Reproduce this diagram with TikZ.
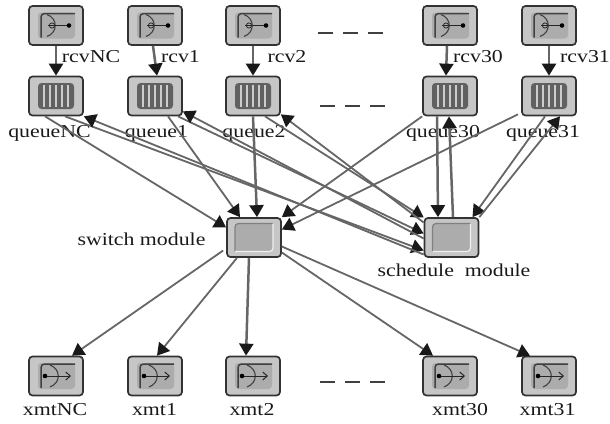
\documentclass[tikz,border=0pt]{standalone}
\usepackage{fontspec}
\setmainfont[FakeStretch=1.2]{Liberation Serif}
\usetikzlibrary{arrows.meta}
\definecolor{boxfill}{HTML}{C6C6C6}
\definecolor{boxinner}{HTML}{ACACAC}
\definecolor{boxline}{HTML}{333333}
\definecolor{wirecol}{HTML}{666666}
\tikzset{
  modbox/.style={draw=boxline,fill=boxfill,line width=1.7pt,rounded corners=3.5pt,minimum width=54pt,minimum height=39pt,inner sep=0pt},
  plainbox/.style={modbox,path picture={
    \begin{scope}[shift={(path picture bounding box.center)}]
      \fill[boxinner] (-19,-14) rectangle (19,14);
      \draw[black!50,line width=1.2pt] (-19,14) -- (-19,-14) -- (19,-14);
      \draw[black!6,line width=1.2pt] (-19,14) -- (19,14) -- (19,-14);
    \end{scope}}},
  rcvbox/.style={modbox,path picture={
    \begin{scope}[shift={(path picture bounding box.center)}]
      \fill[boxinner] (-18,-13) rectangle (19,13);
      \draw[black!75,line width=1.5pt] (19,-12) -- (-15,-12) -- (-15,12);
      \draw[black!75,line width=1.1pt] (-9,-11) .. controls (2,-7) and (2,7) .. (-9,11);
      \draw[black!85,line width=1pt] (-8,0) -- (13,0);
      \fill[black] (13,0) circle (2.3);
      \draw[black!85,line width=.8pt] (-4,0) circle (2.6);
    \end{scope}}},
  xmtbox/.style={modbox,path picture={
    \begin{scope}[shift={(path picture bounding box.center)}]
      \fill[boxinner] (-18,-13) rectangle (19,13);
      \draw[black!75,line width=1.5pt] (19,-12) -- (-15,-12) -- (-15,12);
      \draw[black!75,line width=1.1pt] (-6,-11) .. controls (5,-7) and (5,7) .. (-6,11);
      \draw[black!85,line width=1pt,-{Straight Barb[length=4.5pt,width=8pt]}] (-12,0) -- (15,0);
      \fill[black] (-11,0) circle (2.3);
    \end{scope}}},
  queuebox/.style={modbox,path picture={
    \begin{scope}[shift={(path picture bounding box.center)}]
      \fill[black!62] (-18,-13) rectangle (18,13);
      \draw[black!20,line width=2pt] (-12,-11) -- (-12,11);
      \draw[black!20,line width=2pt] (-6,-11) -- (-6,11);
      \draw[black!20,line width=2pt] (0,-11) -- (0,11);
      \draw[black!20,line width=2pt] (6,-11) -- (6,11);
      \draw[black!20,line width=2pt] (12,-11) -- (12,11);
    \end{scope}}},
  wire/.style={draw=wirecol,line width=1.8pt,-{Triangle[length=12pt,width=14pt,color=black!90]}},
  tail/.style={wire,draw=wirecol,line width=2.5pt},
  lbl/.style={inner sep=0pt,font=\fontsize{18.2}{20}\selectfont,text=black!90},
  gap/.style={black!75,line width=1.4pt,dash pattern=on 15pt off 10pt}
}
\begin{document}
\begin{tikzpicture}[x=1pt,y=-1pt]
      \useasboundingbox (0,0) rectangle (610,423);
      \node[rcvbox] (rcvNC) at (56,25.5) {};
      \node[rcvbox] (rcv1) at (155,25.5) {};
      \node[rcvbox] (rcv2) at (253,25.5) {};
      \node[rcvbox] (rcv30) at (450,25.5) {};
      \node[rcvbox] (rcv31) at (549,25.5) {};
      \node[queuebox] (queueNC) at (56,96) {};
      \node[queuebox] (queue1) at (155,96) {};
      \node[queuebox] (queue2) at (253,96) {};
      \node[queuebox] (queue30) at (450,96) {};
      \node[queuebox] (queue31) at (549,96) {};
      \node[plainbox] (switch) at (254,237.5) {};
      \node[plainbox] (schedule) at (451.5,237.5) {};
      \node[xmtbox] (xmtNC) at (56,376) {};
      \node[xmtbox] (xmt1) at (155,376) {};
      \node[xmtbox] (xmt2) at (253,376) {};
      \node[xmtbox] (xmt30) at (450,376) {};
      \node[xmtbox] (xmt31) at (549,376) {};
      \node[lbl] (lrcvNC) at (91,57) {rcvNC};
      \node[lbl] (lrcv1) at (180.5,57) {rcv1};
      \node[lbl] (lrcv2) at (287,57) {rcv2};
      \node[lbl] (lrcv30) at (478,57) {rcv30};
      \node[lbl] (lrcv31) at (585,57) {rcv31};
      \node[lbl] (lqueueNC) at (49.5,133) {queueNC};
      \node[lbl] (lqueue1) at (156.5,133) {queue1};
      \node[lbl] (lqueue2) at (254,133) {queue2};
      \node[lbl] (lqueue30) at (443,133) {queue30};
      \node[lbl] (lqueue31) at (543,133) {queue31};
      \node[lbl] (lswitch) at (141.5,239) {switch module};
      \node[lbl] (lschedule) at (454,270) {schedule~~module};
      \node[lbl] (lxmtNC) at (55,410) {xmtNC};
      \node[lbl] (lxmt1) at (154.5,410) {xmt1};
      \node[lbl] (lxmt2) at (252,410) {xmt2};
      \node[lbl] (lxmt30) at (460,410) {xmt30};
      \node[lbl] (lxmt31) at (547.5,410) {xmt31};
      \coordinate (gap1a) at (318,33);
      \coordinate (gap1b) at (383,33);
      \coordinate (gap2a) at (320,106);
      \coordinate (gap2b) at (385,106);
      \coordinate (gap3a) at (320,382);
      \coordinate (gap3b) at (385,382);
      \draw [gap] (gap1a) -- (gap1b);
      \draw [gap] (gap2a) -- (gap2b);
      \draw [gap] (gap3a) -- (gap3b);
      \draw [tail] (rcvNC.south) -- (queueNC.north);
      \draw [tail] ([xshift=-2pt]rcv1.south) -- ([xshift=2pt]queue1.north);
      \draw [tail] (rcv2.south) -- (queue2.north);
      \draw [tail] ([xshift=-3pt]rcv30.south) -- ([xshift=-4pt]queue30.north);
      \draw [tail] (rcv31.south) -- (queue31.north);
      \draw [wire] ([xshift=-11pt]queueNC.south) -- ([yshift=10pt]switch.west);
      \draw [wire] ([xshift=13pt]queue1.south) -- ([xshift=-14pt]switch.north);
      \draw [tail] (queue2.south) -- ([xshift=3pt]switch.north);
      \draw [wire] (queue30.south west) -- (switch.north east);
      \draw [wire] ([xshift=-31pt,yshift=2pt]queue31.south) -- ([yshift=8pt]switch.east);
      \draw [wire] ([xshift=9pt]queueNC.south) -- ([yshift=-13pt]schedule.west);
      \draw [wire] ([yshift=-17pt]schedule.west) -- (queueNC.south east);
      \draw [wire] ([xshift=23pt]queue1.south) -- ([yshift=4pt]schedule.west);
      \draw [wire] ([yshift=-1pt]schedule.west) -- ([yshift=5pt]queue1.south east);
      \draw [wire] ([xshift=12pt]queue2.south) -- ([yshift=20pt]schedule.west);
      \draw [wire] ([yshift=15pt]schedule.west) -- ([yshift=2pt]queue2.south east);
      \draw [tail] ([xshift=-13pt]queue30.south) -- ([xshift=-13.5pt]schedule.north);
      \draw [tail] ([xshift=1.5pt]schedule.north) -- ([xshift=-1pt]queue30.south);
      \draw [wire] ([xshift=-4pt]queue31.south) -- ([xshift=21pt]schedule.north);
      \draw [wire] (schedule.north east) -- ([xshift=11pt]queue31.south);
      \draw [wire] ([xshift=-3pt,yshift=-13pt]switch.west) -- ([xshift=16pt]xmtNC.north);
      \draw [wire] ([xshift=-17pt]switch.south) -- ([xshift=2pt]xmt1.north);
      \draw [tail] ([xshift=-5pt]switch.south) -- ([xshift=-7pt]xmt2.north);
      \draw [wire] ([yshift=-15pt]switch.east) -- ([xshift=-17pt]xmt30.north);
      \draw [wire] ([yshift=-9pt]switch.east) -- ([xshift=-19pt]xmt31.north);
    \end{tikzpicture}
\end{document}
